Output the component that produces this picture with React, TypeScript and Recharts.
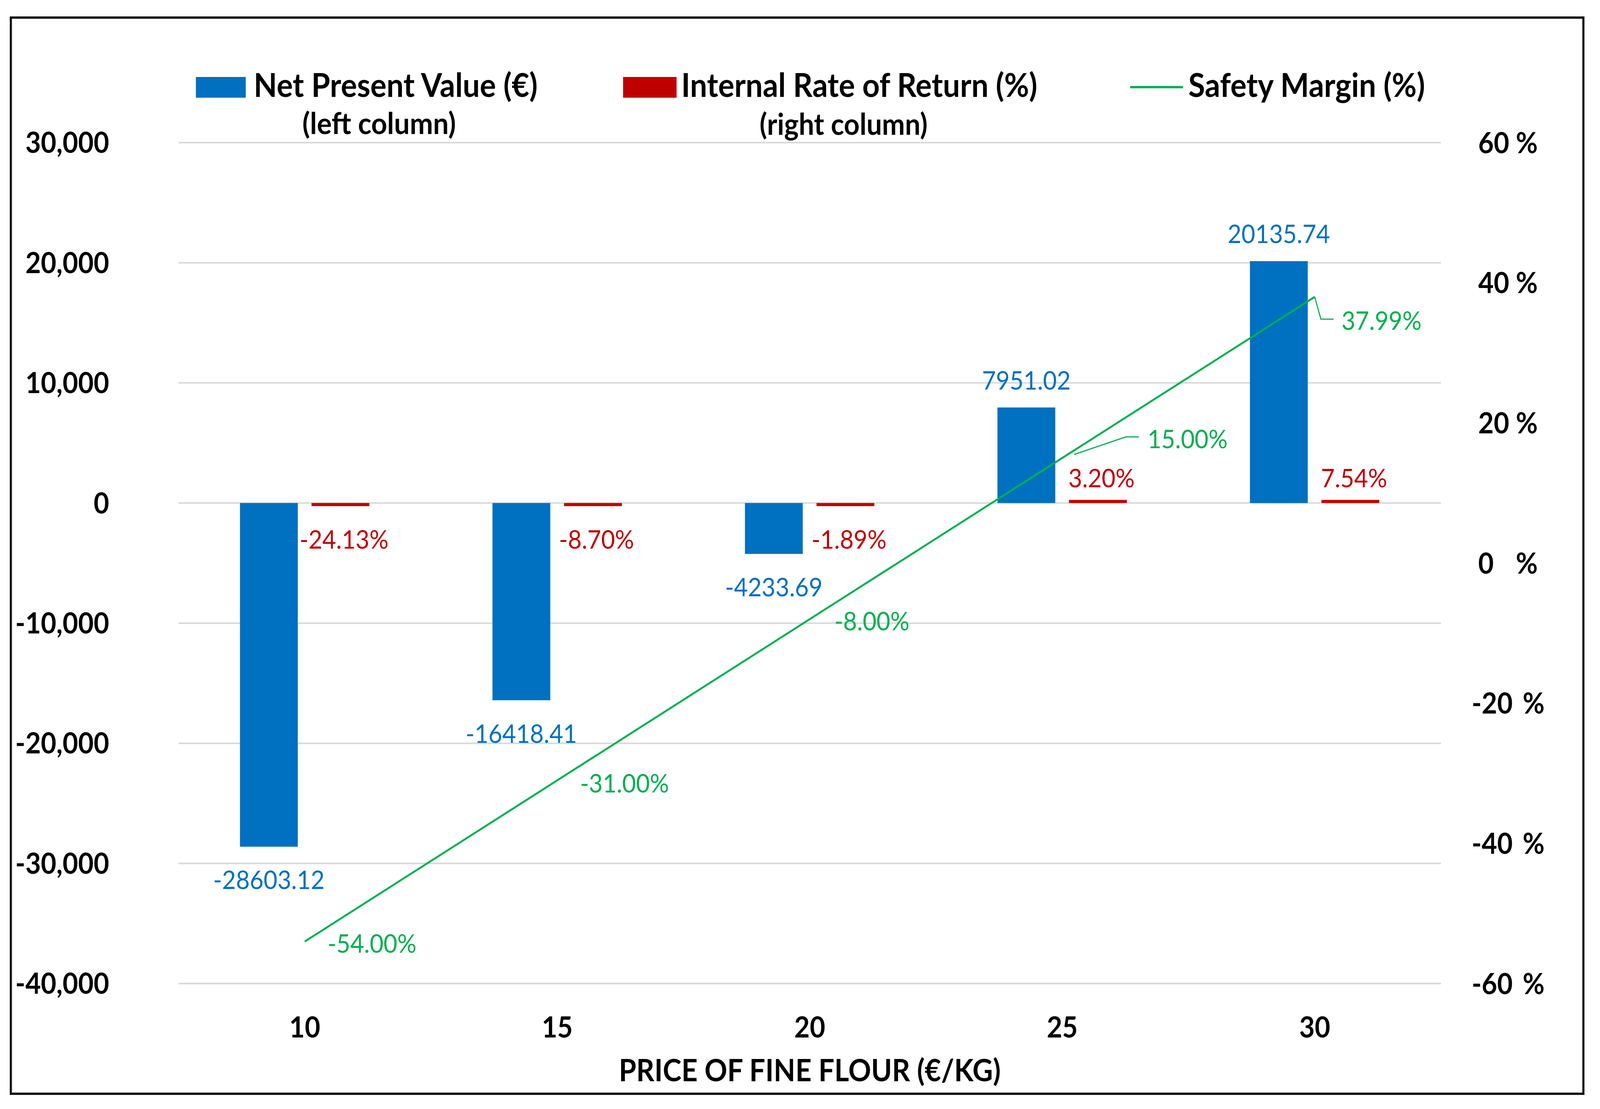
import React from 'react';
import { ComposedChart, Bar, Line, XAxis, YAxis, CartesianGrid, Legend, LabelList } from 'recharts';

// values
const prices = ['10', '15', '20', '25', '30'];
const npv = [-28603.12, -16418.41, -4233.69, 7951.02, 20135.74];
const irr = [-24.13, -8.7, -1.89, 3.2, 7.54];
const safetyMargin = [-54, -31, -8, 15, 37.99];

const leftTicks = [-40000, -30000, -20000, -10000, 0, 10000, 20000, 30000];
const rightTicks = [-60, -40, -20, 0, 20, 40, 60];

const data = prices.map((p, i) => ({ price: p, npv: npv[i], irr: irr[i], margin: safetyMargin[i] }));

// layout is drawn in the reference's own pixel space and fitted to the window
const W = 4427;
const H = 2838;
const BLUE = '#0070C0';
const RED = '#C00000';
const GREEN = '#00B050';
const FONT = 'Lato, "Open Sans", sans-serif';
const LABEL_FS = 66;
const TICK_FS = 74;

// where the safety margin labels sit relative to their point
const marginLabelPlacement: { dx: number; dy: number; leader?: number[][] }[] = [
  { dx: 63, dy: 5 },
  { dx: 63, dy: 7 },
  { dx: 68, dy: 5 },
  { dx: 236, dy: -49, leader: [[33, -9], [176, -54], [212, -54]] },
  { dx: 74, dy: 61, leader: [[0, 0], [17, 57], [52, 57]] },
];

const rectOf = (p: any) => {
  const vb = p.viewBox && typeof p.viewBox.x === 'number' ? p.viewBox : p;
  const x = Number(vb.x);
  const y = Number(vb.y);
  const w = Number(vb.width || 0);
  const h = Number(vb.height || 0);
  return { x, y, w, h, top: Math.min(y, y + h), bottom: Math.max(y, y + h) };
};

const barLabel = (color: string, fmt: (v: number) => string, shift: number, above: number) => (p: any) => {
  const r = rectOf(p);
  const v = Number(p.value);
  const cx = r.x + r.w / 2 + shift;
  const cy = v < 0 ? r.bottom + 85 : r.top - above;
  return (
    <text x={cx} y={cy + LABEL_FS * 0.36} textAnchor="middle" fill={color} fontSize={LABEL_FS} fontFamily={FONT}>
      {fmt(v)}
    </text>
  );
};

const npvLabel = barLabel(BLUE, (v) => v.toFixed(2), 0, 70);
const irrLabel = barLabel(RED, (v) => `${v.toFixed(2)}%`, 10, 56);

const marginLabel = (p: any) => {
  const r = rectOf(p);
  const i = Number(p.index);
  const pl = marginLabelPlacement[i] || { dx: 63, dy: 5 };
  const v = Number(p.value);
  return (
    <g>
      {pl.leader && (
        <polyline
          points={pl.leader.map(([a, b]) => `${r.x + a},${r.y + b}`).join(' ')}
          fill="none"
          stroke={GREEN}
          strokeWidth={3}
        />
      )}
      <text x={r.x + pl.dx} y={r.y + pl.dy + LABEL_FS * 0.36} textAnchor="start" fill={GREEN} fontSize={LABEL_FS} fontFamily={FONT}>
        {`${v.toFixed(2)}%`}
      </text>
    </g>
  );
};

const PctTick = (p: any) => {
  const v = Number(p.payload.value);
  const neg = v < 0;
  const common = { y: p.y, dy: '0.36em', fill: '#000', fontSize: TICK_FS, fontWeight: 700, fontFamily: FONT };
  return (
    <g>
      <text {...common} x={p.x + (neg ? -18 : 0)} textAnchor="start">{v}</text>
      <text {...common} x={p.x + (neg ? 123 : 104)} textAnchor="start">%</text>
    </g>
  );
};

const LegendBlock = () => {
  const t = { fontFamily: FONT, fontWeight: 700, fill: '#000' };
  return (
    <svg width={W} height={365} style={{ display: 'block' }}>
      <rect x={542} y={197} width={138} height={53} fill={BLUE} />
      <text {...t} x={702} y={248} fontSize={84}>Net Present Value (€)</text>
      <text {...t} x={1049} y={343} fontSize={77} textAnchor="middle">(left column)</text>
      <rect x={1724} y={197} width={148} height={53} fill={RED} />
      <text {...t} x={1885} y={248} fontSize={84}>Internal Rate of Return (%)</text>
      <text {...t} x={2334} y={345} fontSize={76} textAnchor="middle">(right column)</text>
      <line x1={3127} x2={3273} y1={223} y2={223} stroke={GREEN} strokeWidth={6} />
      <text {...t} x={3288} y={248} fontSize={84}>Safety Margin (%)</text>
    </svg>
  );
};

const readView = () => {
  if (typeof window === 'undefined') return { w: W, h: H };
  return { w: window.innerWidth || W, h: window.innerHeight || H };
};

export default function App() {
  const [view, setView] = React.useState(readView);
  React.useLayoutEffect(() => {
    document.documentElement.style.overflow = 'hidden';
    document.body.style.overflow = 'hidden';
    setView(readView());
  }, []);
  const sx = view.w / W;
  const sy = view.h / H;

  return (
    <div style={{ position: 'absolute', left: 0, top: 0, width: W * sx, height: H * sy, overflow: 'hidden', background: '#fff' }}>
      <div style={{ position: 'absolute', left: 0, top: 0, width: W, height: H, transform: `scale(${sx}, ${sy})`, transformOrigin: '0 0', fontFamily: FONT }}>
        <ComposedChart
          width={W}
          height={H}
          data={data}
          margin={{ top: 365, right: 0, bottom: 21, left: 0 }}
          barGap={38}
        >
          <CartesianGrid yAxisId="left" vertical={false} stroke="#D9D9D9" strokeWidth={4} />
          <XAxis
            dataKey="price"
            height={300}
            axisLine={false}
            tickLine={false}
            tickSize={0}
            tickMargin={85}
            tick={{ fontSize: TICK_FS, fontWeight: 700, fill: '#000', fontFamily: FONT }}
            label={{ value: 'PRICE OF FINE FLOUR (€/KG)', position: 'insideBottom', offset: 50, fontSize: 78, fontWeight: 700, fill: '#000', fontFamily: FONT }}
          />
          <YAxis
            yAxisId="left"
            width={494}
            domain={[-40000, 30000]}
            ticks={leftTicks}
            axisLine={false}
            tickLine={false}
            tickSize={0}
            tickMargin={192}
            tickFormatter={(v: number) => v.toLocaleString('en-US')}
            tick={{ fontSize: TICK_FS, fontWeight: 700, fill: '#000', fontFamily: FONT }}
          />
          <YAxis
            yAxisId="right"
            orientation="right"
            width={440}
            domain={[-60, 60]}
            ticks={rightTicks}
            axisLine={false}
            tickLine={false}
            tickSize={0}
            tickMargin={103}
            tick={<PctTick />}
          />
          <Legend
            verticalAlign="middle"
            align="center"
            wrapperStyle={{ left: 0, top: 0, width: W, height: 365 }}
            content={() => <LegendBlock />}
          />
          <Bar yAxisId="left" dataKey="npv" name="Net Present Value (€)" fill={BLUE} barSize={160} isAnimationActive={false}>
            <LabelList dataKey="npv" content={npvLabel} />
          </Bar>
          <Bar yAxisId="left" dataKey="irr" name="Internal Rate of Return (%)" fill={RED} barSize={160} minPointSize={8} isAnimationActive={false}>
            <LabelList dataKey="irr" content={irrLabel} />
          </Bar>
          <Line
            yAxisId="right"
            type="linear"
            dataKey="margin"
            name="Safety Margin (%)"
            stroke={GREEN}
            strokeWidth={5}
            dot={false}
            activeDot={false}
            isAnimationActive={false}
          >
            <LabelList dataKey="margin" content={marginLabel} />
          </Line>
        </ComposedChart>
        <div
          style={{
            position: 'absolute',
            left: 27,
            top: 42,
            width: 4357,
            height: 2760,
            boxSizing: 'border-box',
            border: '6px solid #111',
            pointerEvents: 'none',
          }}
        />
      </div>
    </div>
  );
}
